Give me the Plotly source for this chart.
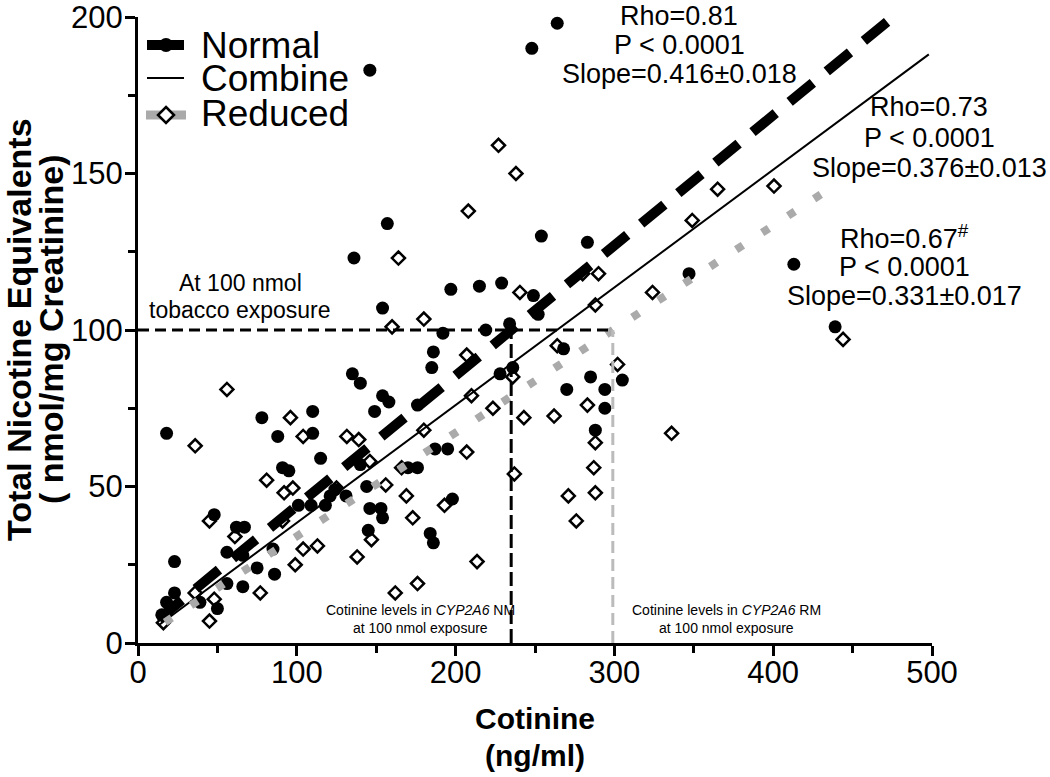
import plotly.graph_objects as go

# ---------------- data ----------------
normal_x = [18, 23, 15, 18, 23, 39, 50, 48, 56, 66, 56, 66, 62, 67, 75, 85, 86, 78, 88, 91, 95,
            101, 109, 110, 110, 115, 118, 124, 131, 121, 136, 146, 157, 135, 140, 140, 144, 146,
            145, 149, 154, 158, 153, 154, 154, 170, 176, 176, 184, 186, 186, 185, 187, 195, 198,
            192, 197, 215, 219, 229, 228, 234, 236, 249, 252, 248, 264, 254, 283, 268, 270, 285,
            294, 294, 288, 305, 347, 413, 439]
normal_y = [67, 26, 9, 13, 16, 13, 11, 41, 19, 18, 29, 28, 37, 37, 24, 30, 22, 72, 66, 56, 55,
            44, 44, 74, 67, 59, 44, 49, 47, 47, 123, 183, 134, 86, 83, 57, 50, 43,
            36, 74, 79, 77, 43, 40, 107, 56, 56, 76, 35, 32, 93, 88, 62, 62, 46,
            99, 113, 114, 100, 115, 86, 102, 88, 111, 105, 190, 198, 130, 128, 94, 81, 85,
            81, 75, 68, 84, 118, 121, 101]

reduced_x = [16, 45, 36, 48, 77, 99, 104, 113, 138, 147, 45, 61, 91, 81, 92, 97.5, 36, 56, 96,
             104, 131.5, 139, 125, 146, 156, 166, 169, 173, 193, 162, 176, 213.5, 180, 207, 210,
             223.5, 236, 243, 237, 262, 283, 288, 287, 288, 271, 276, 264, 302, 288, 280, 290,
             240.5, 160, 180, 207, 164, 208, 227, 238, 324, 349, 365, 400.5, 336, 444]
reduced_y = [6.5, 7, 16, 14, 16, 25, 30, 31, 27.5, 33, 39, 34, 39, 52, 48, 49.5, 63, 81, 72,
             66, 66, 65, 49.5, 58, 50.5, 56, 47, 40, 44, 16, 19, 26, 68, 61, 79,
             75, 85, 72, 54, 72.5, 76, 64, 56, 48, 47, 39, 95, 89, 108, 118, 118,
             112, 101, 103.5, 92, 123, 138, 159, 150, 112, 135, 145, 146, 67, 97]

# regression fits: Normal, Combine, Reduced
fit_names = ["Normal", "Combine", "Reduced"]
fit_slopes = [0.416, 0.376, 0.331]
fit_intercepts = [2.2, 0.8, 1.0]
fit_x_start = [13, 13, 17]
fit_x_end = [478, 498, 442]

stat_rho = ["Rho=0.81", "Rho=0.73", "Rho=0.67<sup>#</sup>"]
stat_p = ["P < 0.0001", "P < 0.0001", "P < 0.0001"]
stat_slope = ["Slope=0.416±0.018", "Slope=0.376±0.013", "Slope=0.331±0.017"]

exposure_level = 100
nm_cotinine = 235
rm_cotinine = 300

x_ticks = [0, 100, 200, 300, 400, 500]
y_ticks = [0, 50, 100, 150, 200]

# ---------------- layout helpers ----------------
L, R, T, B = 138, 932, 17, 643
W, H = 1050, 777


def px(xpix):
    return (xpix - L) / (R - L)


def py(ypix):
    return (B - ypix) / (B - T)


FONT = "Liberation Sans, Arial, Helvetica, sans-serif"

fig = go.Figure()

fig.add_trace(go.Scatter(x=normal_x, y=normal_y, mode="markers", name="Normal",
                         marker=dict(symbol="circle", size=13, color="black"),
                         showlegend=False, cliponaxis=False))
fig.add_trace(go.Scatter(x=reduced_x, y=reduced_y, mode="markers", name="Reduced",
                         marker=dict(symbol="diamond-open", size=10, color="black",
                                     line=dict(width=2.5, color="black")),
                         showlegend=False, cliponaxis=False))

line_styles = [
    dict(color="black", width=10, dash="30px,18px"),
    dict(color="black", width=2, dash="solid"),
    dict(color="#aaaaaa", width=8, dash="8px,23px"),
]
for name, m, b, x0, x1, st in zip(fit_names, fit_slopes, fit_intercepts,
                                   fit_x_start, fit_x_end, line_styles):
    xs = [x0, x1]
    ys = [b + m * v for v in xs]
    fig.add_trace(go.Scatter(x=xs, y=ys, mode="lines", name=name, line=st,
                             showlegend=False, cliponaxis=False))

# reference lines at 100 nmol exposure
fig.add_trace(go.Scatter(x=[0, rm_cotinine - 2], y=[exposure_level, exposure_level], mode="lines",
                         line=dict(color="black", width=3, dash="11px,6px"), showlegend=False))
fig.add_trace(go.Scatter(x=[nm_cotinine, nm_cotinine], y=[0, exposure_level], mode="lines",
                         line=dict(color="black", width=3, dash="14px,5px"), showlegend=False))
fig.add_trace(go.Scatter(x=[rm_cotinine - 1, rm_cotinine - 1], y=[0, exposure_level], mode="lines",
                         line=dict(color="#bbbbbb", width=3, dash="12px,6px"), showlegend=False))

annotations = []


def add_text(text, xpix, ypix, size, xanchor="center", bold=False, textangle=0):
    annotations.append(dict(text=("<b>%s</b>" % text) if bold else text,
                            x=px(xpix), y=py(ypix), xref="paper", yref="paper",
                            xanchor=xanchor, yanchor="middle", showarrow=False,
                            textangle=textangle, borderpad=0,
                            font=dict(family=FONT, size=size, color="black")))


# statistics blocks
stat_cx = [679, 929, 904]
stat_rows = [(16, 45, 74), (107, 138, 168), (237, 267, 296)]
for i in range(3):
    add_text(stat_rho[i], stat_cx[i], stat_rows[i][0], 27)
    add_text(stat_p[i], stat_cx[i], stat_rows[i][1], 27)
    add_text(stat_slope[i], stat_cx[i], stat_rows[i][2], 27)

add_text("At 100 nmol", 240, 283, 23)
add_text("tobacco exposure", 240, 310, 23)

add_text("Cotinine levels in <i>CYP2A6</i> NM", 420, 610, 14)
add_text("at 100 nmol exposure", 420, 628, 14)
add_text("Cotinine levels in <i>CYP2A6</i> RM", 726, 610, 14)
add_text("at 100 nmol exposure", 726, 628, 14)

# axis titles
add_text("Cotinine", 535, 718, 30, bold=True)
add_text("(ng/ml)", 535, 755, 30, bold=True)
add_text("Total Nicotine Equivalents", 19, 330, 34, bold=True, textangle=-90)
add_text("( nmol/mg Creatinine)", 51, 330, 34, bold=True, textangle=-90)

# legend (manual)
legend_rows = [45, 78, 113]
for name, yy in zip(fit_names, legend_rows):
    add_text(name, 200, yy, 37, xanchor="left")

shapes = []
shapes.append(dict(type="line", xref="paper", yref="paper", x0=px(147), x1=px(184),
                   y0=py(45), y1=py(45), line=dict(color="black", width=10)))
shapes.append(dict(type="circle", xref="paper", yref="paper", xsizemode="pixel", ysizemode="pixel",
                   xanchor=px(166), yanchor=py(45), x0=-7, x1=7, y0=-7, y1=7,
                   fillcolor="black", line=dict(color="black", width=0)))
shapes.append(dict(type="line", xref="paper", yref="paper", x0=px(147), x1=px(184),
                   y0=py(78), y1=py(78), line=dict(color="black", width=2)))
shapes.append(dict(type="line", xref="paper", yref="paper", x0=px(146), x1=px(186),
                   y0=py(115), y1=py(115), line=dict(color="#aaaaaa", width=9)))
shapes.append(dict(type="path", xref="paper", yref="paper", xsizemode="pixel", ysizemode="pixel",
                   xanchor=px(166), yanchor=py(115), path="M 0,8 L 8,0 L 0,-8 L -8,0 Z",
                   fillcolor="white", line=dict(color="black", width=2.5)))

axis_common = dict(showline=True, linecolor="black", linewidth=3, ticks="outside",
                   ticklen=10, tickwidth=3, tickcolor="black", showgrid=False, zeroline=False,
                   ticklabeloverflow="allow", automargin=False,
                   tickfont=dict(family=FONT, size=31, color="black"), fixedrange=True)

fig.update_layout(
    width=W, height=H,
    margin=dict(l=L, r=W - R, t=T, b=H - B, pad=0, autoexpand=False),
    paper_bgcolor="white", plot_bgcolor="white",
    showlegend=False,
    xaxis=dict(range=[0, 500], tickvals=x_ticks, ticklabelstandoff=-10,
               minor=dict(dtick=50, ticks="outside", ticklen=7, tickwidth=3, tickcolor="black"),
               **axis_common),
    yaxis=dict(range=[0, 200], tickvals=y_ticks, ticklabelstandoff=-4,
               minor=dict(dtick=25, ticks="outside", ticklen=7, tickwidth=3, tickcolor="black"),
               **axis_common),
    annotations=annotations,
    shapes=shapes,
)

fig.write_html("out.html", config={"displayModeBar": False},
               post_script="document.body.style.margin='0px';document.body.style.overflow='hidden';")
